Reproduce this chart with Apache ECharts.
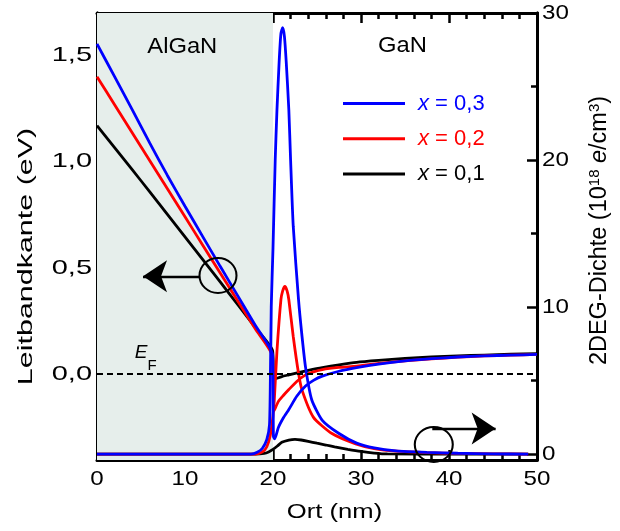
<!DOCTYPE html>
<html>
<head>
<meta charset="utf-8">
<script src="https://cdn.jsdelivr.net/npm/echarts@6/dist/echarts.min.js"></script>
<style>
  html, body { margin: 0; padding: 0; background: #fff; }
  #chart { width: 620px; height: 531px; }
</style>
</head>
<body>
<div id="chart"></div>
<script>
// Conduction band edge (eV) along the growth direction (nm), AlGaN barrier on GaN
const cbPos01 = [0, 2, 4, 6, 8, 10, 12, 14, 16, 18, 19.95, 20.1, 21, 21.8, 23, 24, 25.6, 27.5, 29.5, 32, 35, 38, 41, 44, 47, 50];
const cbE01   = [1.170, 1.066, 0.962, 0.858, 0.752, 0.646, 0.540, 0.434, 0.326, 0.218, 0.110, -0.025, -0.012, -0.004, 0.008, 0.017, 0.030, 0.043, 0.055, 0.064, 0.073, 0.080, 0.085, 0.089, 0.093, 0.096];

const cbPos02 = [0, 2, 4, 6, 8, 10, 12, 14, 16, 18, 19.95, 20.1, 20.6, 21.2, 21.8, 22.7, 23.7, 24.6, 25.6, 27.5, 29.5, 32, 35, 38, 41, 44, 47, 50];
const cbE02   = [1.400, 1.268, 1.136, 1.004, 0.872, 0.740, 0.608, 0.476, 0.344, 0.212, 0.083, -0.175, -0.130, -0.100, -0.073, -0.035, -0.004, 0.010, 0.021, 0.031, 0.037, 0.050, 0.062, 0.071, 0.079, 0.085, 0.089, 0.092];

const cbPos03 = [0, 2, 4, 6, 8, 10, 12, 14, 16, 18, 19.95, 20.05, 20.2, 20.6, 21.2, 21.8, 22.7, 23.7, 24.6, 25.6, 27.5, 29.5, 32, 35, 38, 41, 44, 47, 50];
const cbE03   = [1.555, 1.400, 1.245, 1.087, 0.935, 0.790, 0.648, 0.507, 0.368, 0.228, 0.090, -0.295, -0.305, -0.253, -0.205, -0.167, -0.105, -0.057, -0.030, -0.010, 0.013, 0.030, 0.047, 0.062, 0.072, 0.080, 0.085, 0.089, 0.092];

// 2DEG density (10^18 e/cm^3)
const nPos01 = [0, 18, 19, 19.5, 20, 20.5, 21, 21.8, 22.5, 23.2, 24, 25, 26, 27, 28.5, 30, 31.5, 33, 40, 49];
const n01    = [0, 0, 0.05, 0.15, 0.32, 0.55, 0.8, 0.95, 1.0, 0.96, 0.87, 0.74, 0.62, 0.5, 0.33, 0.18, 0.07, 0.01, 0, 0];

const nPos02 = [0, 18, 18.8, 19.3, 19.7, 20, 20.15, 20.45, 20.9, 21.1, 21.35, 21.6, 21.8, 22.3, 22.9, 23.3, 24.6, 26.7, 29.4, 31.5, 34, 37.5, 41, 45, 49];
const n02    = [0, 0, 0.15, 0.5, 1.3, 2.6, 3.7, 7.0, 10.5, 11.1, 11.4, 11.1, 10.5, 8.0, 5.5, 4.35, 2.5, 1.4, 0.7, 0.38, 0.2, 0.1, 0.05, 0.02, 0];

const nPos03 = [0, 17.5, 18.2, 18.8, 19.3, 19.6, 19.7, 19.8, 20.0, 20.25, 20.45, 20.7, 20.9, 21.1, 21.3, 21.5, 21.8, 22.0, 22.3, 22.9, 23.3, 23.7, 24.4, 25.6, 27.5, 29.5, 31.5, 34, 37.5, 41, 45, 49];
const n03    = [0, 0, 0.12, 0.4, 1.0, 2.0, 5.0, 10.0, 14.0, 20.0, 23.4, 26.7, 28.6, 29.0, 28.4, 26.7, 23.4, 20.0, 15.5, 10.5, 8.0, 5.9, 3.7, 2.3, 1.4, 0.75, 0.42, 0.22, 0.12, 0.06, 0.02, 0];

const seriesNames = ['x = 0,3', 'x = 0,2', 'x = 0,1'];

// Axis ticks
const eMajor = [0, 0.5, 1, 1.5];
const eMinor = [-0.25, 0.25, 0.75, 1.25];
const nMajor = [0, 10, 20, 30];
const nMinor = [5, 15, 25];

const interfacePos = 20;   // AlGaN / GaN interface (nm)

// Labels drawn with a wider horizontal stretch
const labelStretch = {
  '0,0': 1.38, '0,5': 1.38, '1,0': 1.38, '1,5': 1.38,
  'Leitbandkante (eV)': 1.45, 'Ort (nm)': 1.22,
  '0': 1.15, '10': 1.15, '20': 1.15, '30': 1.15, '40': 1.15, '50': 1.15,
  'AlGaN': 1.08, 'GaN': 1.08
};
(function () {
  const proto = CanvasRenderingContext2D.prototype;
  const plainFill = proto.fillText;
  proto.fillText = function (text, x, y, maxWidth) {
    const k = labelStretch[text];
    if (!k) {
      return maxWidth === undefined ? plainFill.call(this, text, x, y) : plainFill.call(this, text, x, y, maxWidth);
    }
    this.save();
    this.translate(x, y);
    this.scale(k, 1);
    plainFill.call(this, text, 0, 0);
    this.restore();
  };
})();

const FONT = '"Liberation Sans", Arial, Helvetica, sans-serif';
const BLUE = '#0000ff', RED = '#ff0000', BLACK = '#000000';
const SHADE = '#e6eeeb';

const pairs = (xs, ys) => xs.map((x, i) => [x, ys[i]]);
const comma = v => v.toFixed(1).replace('.', ',');
const tickLine = { color: '#000', width: 2.5 };

function xAxisCfg(position, withLabels) {
  return {
    type: 'value', position, min: 0, max: 50, interval: 10,
    axisLine: { show: true, onZero: false, lineStyle: { color: '#000', width: 3 } },
    axisTick: { show: true, inside: true, length: 10, lineStyle: tickLine },
    minorTick: { show: true, splitNumber: 5, length: 6, lineStyle: tickLine },
    splitLine: { show: false },
    axisLabel: { show: withLabels, margin: 9, color: '#000', fontSize: 21, fontFamily: FONT },
    name: withLabels ? 'Ort (nm)' : '',
    nameLocation: 'middle', nameGap: 42, nameMoveOverlap: false,
    nameTextStyle: { fontSize: 21, fontFamily: FONT, color: '#000', padding: [0, 0, 0, 35] }
  };
}

function yAxisCfg(position, min, max, ticks, tickLen, labels, formatter) {
  return {
    type: 'value', position, min, max,
    axisLine: { show: true, onZero: false, lineStyle: { color: '#000', width: 3 } },
    axisTick: { show: true, inside: true, length: tickLen, customValues: ticks, lineStyle: tickLine },
    axisLabel: labels
      ? { show: true, customValues: ticks, formatter, margin: 5, color: '#000', fontSize: 21, fontFamily: FONT }
      : { show: false },
    splitLine: { show: false }
  };
}

const yLeft = Object.assign(yAxisCfg('left', -0.405, 1.7, eMajor, 10, true, comma), {
  name: 'Leitbandkante (eV)', nameLocation: 'middle', nameGap: 60, nameRotate: 90, nameMoveOverlap: false,
  nameTextStyle: { fontSize: 21, fontFamily: FONT, color: '#000', padding: [0, 40, 0, 0] }
});
const yLeftMinor = yAxisCfg('left', -0.405, 1.7, eMinor, 6, false);
const yRight = Object.assign(yAxisCfg('right', -0.4, 30, nMajor, 10, true, v => String(v)), {
  name: '2DEG-Dichte (10{s|18} {i|e}/cm{s|3})', nameLocation: 'middle', nameGap: 50, nameRotate: 90, nameMoveOverlap: false,
  nameTextStyle: {
    fontSize: 23.5, fontFamily: FONT, color: '#000', padding: [0, 0, 0, 12],
    rich: {
      s: { fontSize: 15, fontFamily: FONT, color: '#000', padding: [0, 0, 10, 0] },
      i: { fontSize: 23.5, fontFamily: FONT, color: '#000', fontStyle: 'italic' }
    }
  }
});
const yRightMinor = yAxisCfg('right', -0.4, 30, nMinor, 6, false);

function curve(name, color, xs, ys, yAxisIndex, extra) {
  return Object.assign({
    name, type: 'line', xAxisIndex: 0, yAxisIndex,
    data: pairs(xs, ys), symbol: 'none', showSymbol: false, smooth: 0.2,
    lineStyle: { color, width: 2.8 }, itemStyle: { color },
    emphasis: { disabled: true }
  }, extra || {});
}

const circleStyle = { color: 'rgba(0,0,0,0)', borderColor: '#000', borderWidth: 2 };
const arrowLine = { color: '#000', width: 2.3, type: 'solid' };

const option = {
  animation: false,
  grid: { left: 97, top: 13, width: 440, height: 447, containLabel: false, outerBoundsMode: 'none' },
  legend: {
    orient: 'vertical', left: 343, top: 91.5, padding: 0, itemWidth: 62, itemHeight: 3, itemGap: 11.3,
    icon: 'rect', selectedMode: false,
    textStyle: {
      fontSize: 22, fontFamily: FONT, lineHeight: 24, padding: [0, 0, 0, 8],
      rich: { i: { fontStyle: 'italic', fontSize: 22, fontFamily: FONT } }
    },
    formatter: name => '{i|x}' + name.slice(1),
    data: [
      { name: seriesNames[0], textStyle: { color: BLUE } },
      { name: seriesNames[1], textStyle: { color: RED } },
      { name: seriesNames[2], textStyle: { color: BLACK } }
    ]
  },
  xAxis: [xAxisCfg('bottom', true), xAxisCfg('top', false)],
  yAxis: [yLeft, yLeftMinor, yRight, yRightMinor],
  series: [
    curve(seriesNames[2], BLACK, cbPos01, cbE01, 0, {
      markArea: {
        silent: true, itemStyle: { color: SHADE },
        data: [[{ xAxis: 0 }, { xAxis: interfacePos }]]
      },
      markLine: {
        silent: true, symbol: ['none', 'none'], label: { show: false },
        lineStyle: { color: '#000', width: 2.2, type: [6, 4] },
        data: [{ yAxis: 0 }]
      },
      markPoint: {
        silent: true, symbol: 'circle', symbolSize: 1,
        itemStyle: { color: 'rgba(0,0,0,0)' },
        label: {
          show: true, position: 'inside', formatter: '{b}', color: '#000',
          fontSize: 22, fontFamily: FONT, textBorderWidth: 0
        },
        data: [
          { name: 'AlGaN', coord: [9.69, 1.539] },
          { name: 'GaN', coord: [34.7, 1.547] },
          {
            name: 'EF', coord: [4.24, 0.101],
            label: {
              position: 'right', distance: 0, formatter: '{e|E}{f|F}',
              rich: {
                e: { fontSize: 19, fontFamily: FONT, fontStyle: 'italic', color: '#000' },
                f: { fontSize: 15, fontFamily: FONT, color: '#000', padding: [26, 0, 0, 0] }
              }
            }
          }
        ]
      }
    }),
    curve(seriesNames[2], BLACK, nPos01, n01, 2, {
      markPoint: {
        silent: true, symbol: 'circle', symbolSize: [38, 35], itemStyle: circleStyle,
        label: { show: false }, data: [{ coord: [38.27, 0.65] }]
      },
      markLine: {
        silent: true, symbol: ['none', 'arrow'], symbolSize: 24, label: { show: false },
        lineStyle: arrowLine, itemStyle: { color: '#000' },
        data: [[{ coord: [38.1, 1.75] }, { coord: [45.3, 1.75] }]]
      }
    }),
    curve(seriesNames[1], RED, cbPos02, cbE02, 0, {
      markPoint: {
        silent: true, symbol: 'circle', symbolSize: [37, 35], itemStyle: circleStyle,
        label: { show: false }, data: [{ coord: [13.75, 0.464] }]
      },
      markLine: {
        silent: true, symbol: ['none', 'arrow'], symbolSize: 24, label: { show: false },
        lineStyle: arrowLine, itemStyle: { color: '#000' },
        data: [[{ coord: [11.66, 0.46] }, { coord: [5.23, 0.46] }]]
      }
    }),
    curve(seriesNames[1], RED, nPos02, n02, 2),
    curve(seriesNames[0], BLUE, cbPos03, cbE03, 0),
    curve(seriesNames[0], BLUE, nPos03, n03, 2)
  ]
};

const chart = echarts.init(document.getElementById('chart'), null, { renderer: 'canvas' });
chart.setOption(option);
</script>
</body>
</html>
